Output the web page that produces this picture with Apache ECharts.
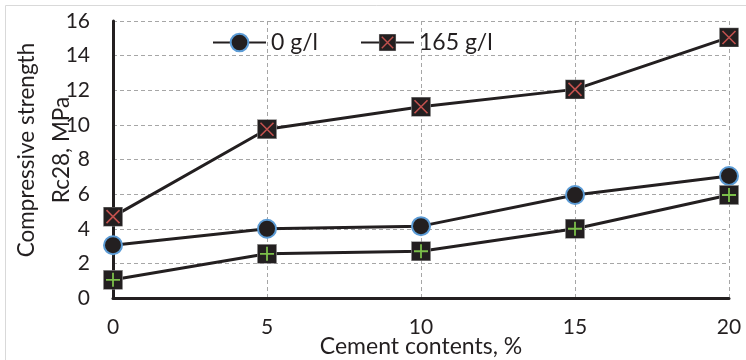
<!DOCTYPE html>
<html>
<head>
<meta charset="utf-8">
<script src="https://cdn.jsdelivr.net/npm/echarts@6/dist/echarts.min.js"></script>
<style>
  html, body { margin: 0; padding: 0; background: #fff; }
  #chart { width: 746px; height: 360px; }
</style>
</head>
<body>
<div id="chart"></div>
<script>
// Cement content (%) on the x axis
const cementContents = [0, 5, 10, 15, 20];
// Compressive strength Rc28 (MPa) for each series
const strength0 = [3.05, 4.0, 4.15, 5.95, 7.05];
const strength165 = [4.7, 9.75, 11.05, 12.05, 15.05];
const strengthPlus = [1.05, 2.55, 2.7, 4.0, 5.95];
const yTicks = [0, 2, 4, 6, 8, 10, 12, 14, 16];
const xTicks = [0, 5, 10, 15, 20];

const FONT = 'Lato';
const INK = '#231f20';

function pairs(xs, ys) { return xs.map((x, i) => [x, ys[i]]); }

function svgSymbol(inner) {
  const svg = '<svg xmlns="http://www.w3.org/2000/svg" width="40" height="40" viewBox="0 0 20 20">' +
    '<rect x="0.4" y="0.4" width="19.2" height="19.2" fill="#231f20" stroke="#9a9a9a" stroke-width="0.6"/>' +
    inner + '</svg>';
  return 'image://data:image/svg+xml;charset=utf-8,' + encodeURIComponent(svg);
}
const crossSymbol = svgSymbol('<path d="M3.5 3.5 L16.5 16.5 M16.5 3.5 L3.5 16.5" stroke="#c0504d" stroke-width="1.6" fill="none"/>');
const plusSymbol = svgSymbol('<path d="M10 3 L10 17 M3 10 L17 10" stroke="#7cbf4a" stroke-width="1.8" fill="none"/>');

const chart = echarts.init(document.getElementById('chart'));
chart.setOption({
  animation: false,
  textStyle: { fontFamily: FONT, color: INK },
  graphic: [
    { type: 'rect', shape: { x: 5.5, y: 5.5, width: 800, height: 400 },
      style: { fill: 'none', stroke: '#d9d9d9', lineWidth: 1 }, silent: true },
    { type: 'text', x: 44, y: 150, rotation: Math.PI / 2,
      style: { text: 'Compressive strength\nRc28, MPa', font: '22.5px ' + FONT, fill: INK,
               align: 'center', verticalAlign: 'middle', lineHeight: 35 } },
    { type: 'text', x: 421, y: 347,
      style: { text: 'Cement contents, %', font: '23px ' + FONT, fill: INK,
               align: 'center', verticalAlign: 'middle' } }
  ],
  legend: [
    { data: ['0 g/l'], left: 212, top: 31, padding: 0, itemWidth: 53, itemHeight: 22, itemGap: 5,
      textStyle: { fontSize: 23, fontFamily: FONT, color: INK } },
    { data: ['165 g/l'], left: 360, top: 31, padding: 0, itemWidth: 53, itemHeight: 22, itemGap: 5,
      textStyle: { fontSize: 23, fontFamily: FONT, color: INK } }
  ],
  grid: { left: 113, right: 17, top: 21, bottom: 62, outerBoundsMode: 'none', containLabel: false },
  xAxis: {
    type: 'value', min: 0, max: 20, interval: 5,
    axisLine: { show: true, lineStyle: { color: INK, width: 3 } },
    axisTick: { show: false },
    axisLabel: { fontSize: 21, fontFamily: FONT, color: INK, margin: 19,
                 formatter: v => xTicks.includes(v) ? String(v) : '' },
    splitLine: { show: true, lineStyle: { color: '#a6a6a6', type: [4, 3], width: 1 } }
  },
  yAxis: {
    type: 'value', min: 0, max: 16, interval: 2,
    axisLine: { show: true, lineStyle: { color: INK, width: 3 } },
    axisTick: { show: false },
    axisLabel: { fontSize: 21, fontFamily: FONT, color: INK, margin: 23,
                 formatter: v => yTicks.includes(v) ? String(v) : '' },
    splitLine: { show: true, lineStyle: { color: '#a6a6a6', type: [4, 3], width: 1 } }
  },
  series: [
    {
      name: '0 g/l', type: 'line', data: pairs(cementContents, strength0),
      symbol: 'circle', symbolSize: 18,
      lineStyle: { color: INK, width: 3 },
      itemStyle: { color: INK, borderColor: '#5b9bd5', borderWidth: 2 }
    },
    {
      name: '165 g/l', type: 'line', data: pairs(cementContents, strength165),
      symbol: crossSymbol, symbolSize: 20,
      lineStyle: { color: INK, width: 3 },
      itemStyle: { color: INK }
    },
    {
      name: 'plus', type: 'line', data: pairs(cementContents, strengthPlus),
      symbol: plusSymbol, symbolSize: 20,
      lineStyle: { color: INK, width: 3 },
      itemStyle: { color: INK }
    }
  ]
});
</script>
</body>
</html>
